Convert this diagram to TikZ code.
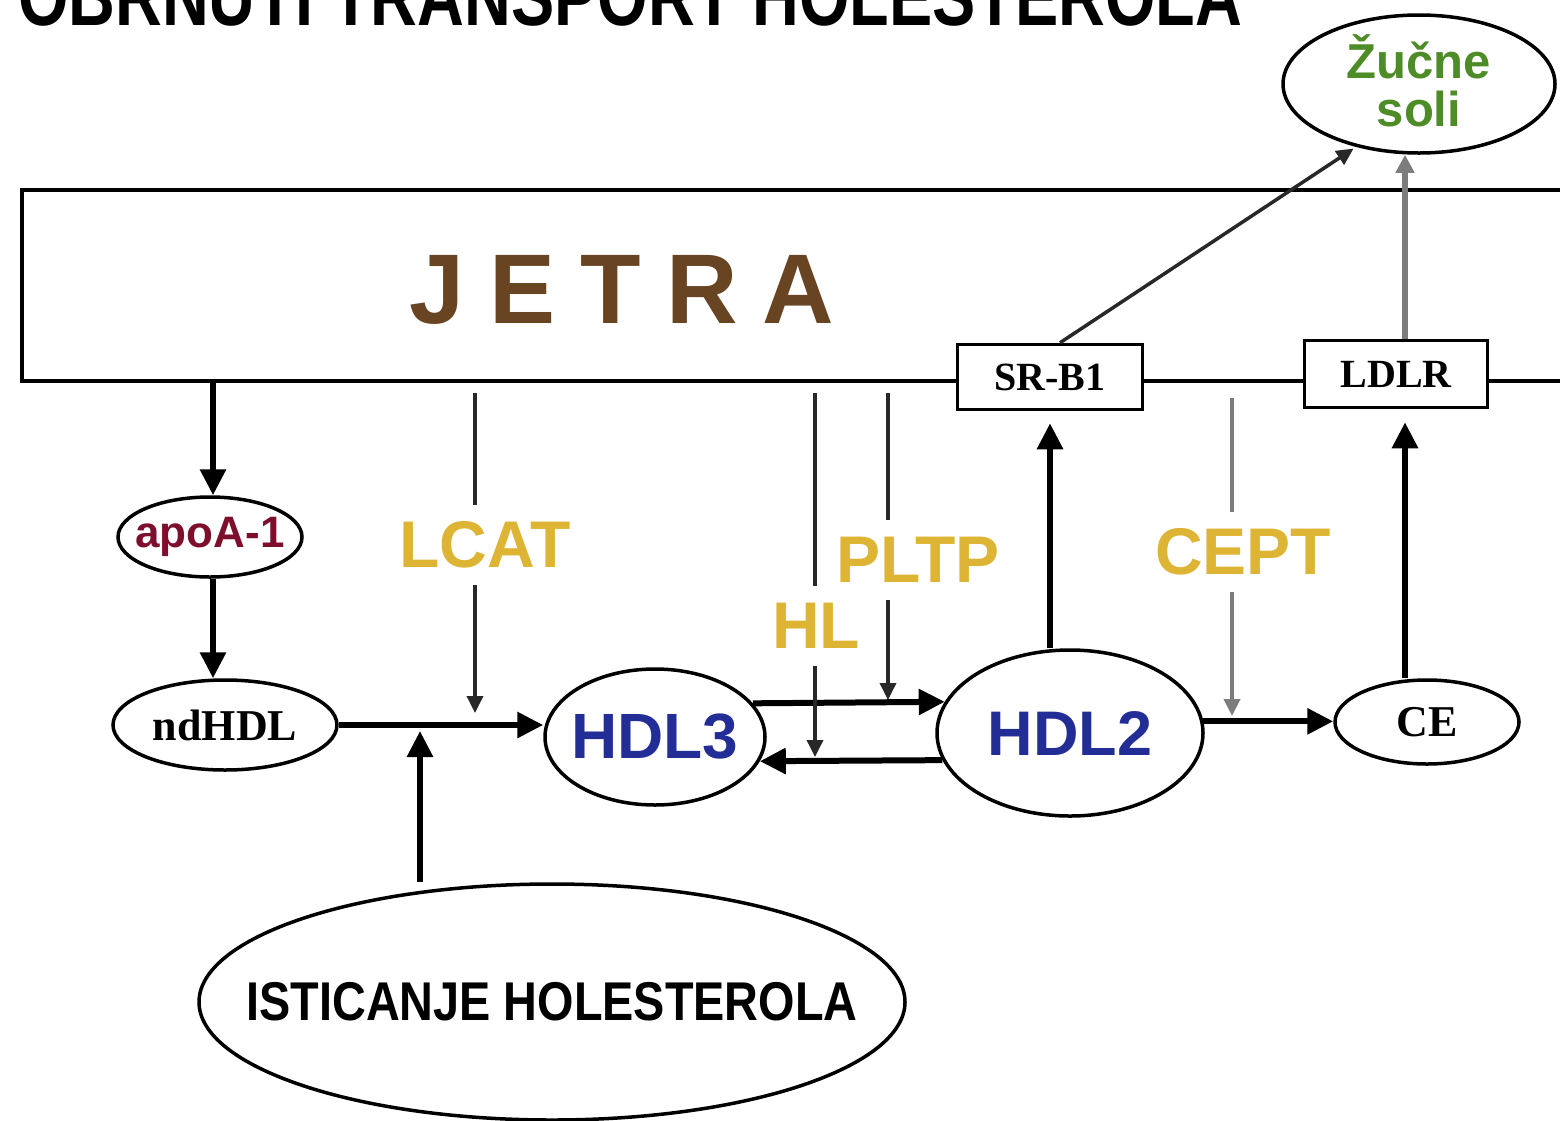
\documentclass[tikz,border=0pt]{standalone}
\usepackage{fontspec}
\setmainfont{Liberation Serif}
\setsansfont{Liberation Sans}
\usetikzlibrary{arrows.meta,shapes.geometric,calc}

\definecolor{liverbrown}{RGB}{104,68,34}
\definecolor{enzgold}{RGB}{222,180,52}
\definecolor{hdlblue}{RGB}{35,45,150}
\definecolor{apored}{RGB}{125,15,45}
\definecolor{bilegreen}{RGB}{78,140,40}
\definecolor{linegrey}{RGB}{125,125,125}
\definecolor{thinline}{RGB}{40,40,40}

\newcommand{\fsz}[1]{\fontsize{#1}{#1}\selectfont}

\begin{document}
\begin{tikzpicture}[x=1pt,y=-1pt,
  oval/.style={ellipse,draw,line width=3.5pt,inner sep=0pt},
  recbox/.style={rectangle,draw,line width=3.5pt,fill=white,inner sep=0pt,font=\bfseries\fsz{40}},
  bigarrow/.style={line width=6pt,-{Triangle[length=26pt,width=25pt]}},
  thinarrow/.style={line width=3.5pt,draw=thinline,-{Triangle[length=17pt,width=16pt]}},
  greyarrow/.style={line width=5.5pt,draw=linegrey,-{Triangle[length=18pt,width=18pt]}},
  enzyme/.style={font=\sffamily\bfseries\fsz{66},text=enzgold,fill=white,inner sep=0pt,minimum height=80pt},
]
\useasboundingbox (0,0) rectangle (1560,1120);
\clip (0,0) rectangle (1560,1120);

% heading, partly cut by the top edge
\node[anchor=base west,inner sep=0pt,font=\sffamily\bfseries\fsz{72}] (title) at (18,25)
  {\scalebox{0.9}[1.15]{OBRNUTI TRANSPORT HOLESTEROLA}};

% liver band running off the right edge
\node[draw,line width=4.5pt,minimum width=1558pt,minimum height=191pt,inner sep=0pt] (liver) at (801,285.5) {};
\node[anchor=base,inner sep=0pt,font=\sffamily\bfseries\fsz{99},text=liverbrown] (jetra) at (622,323)
  {J\hspace{25pt}E\hspace{25pt}T\hspace{25pt}R\hspace{25pt}A};

% receptors on the liver membrane
\node[recbox,minimum width=185pt,minimum height=65pt] (srb) at (1050,377) {SR-B1};
\node[recbox,minimum width=183pt,minimum height=67pt] (ldlr) at (1396,374) {LDLR};

% bile salts
\node[oval,minimum width=272pt,minimum height=138pt,
  label={[align=center,yshift=3pt,font=\sffamily\bfseries\fontsize{49}{48}\selectfont,text=bilegreen]center:Žučne\\soli}]
  (bile) at (1419,84) {};

% lipoprotein particles
\node[oval,minimum width=184pt,minimum height=80pt,
  label={[font=\sffamily\bfseries\fsz{44},text=apored]center:apoA-1}] (apo) at (210,537) {};
\node[oval,minimum width=224pt,minimum height=90pt,
  label={[font=\bfseries\fsz{44}]center:ndHDL}] (nd) at (225,725) {};
\node[oval,minimum width=220pt,minimum height=136pt,
  label={[font=\sffamily\bfseries\fsz{64},text=hdlblue]center:HDL3}] (hdl3) at (655,737) {};
\node[oval,minimum width=266pt,minimum height=166pt,
  label={[font=\sffamily\bfseries\fsz{63},text=hdlblue]center:HDL2}] (hdl2) at (1070,733) {};
\node[oval,minimum width=184pt,minimum height=84pt,
  label={[font=\bfseries\fsz{44}]center:CE}] (ce) at (1427,722) {};
\node[oval,minimum width=706pt,minimum height=236pt,
  label={[font=\sffamily\bfseries\fsz{52}]center:\scalebox{0.9}[1.05]{ISTICANJE HOLESTEROLA}}] (istic) at (552,1002) {};

% points where enzymes act on the flows
\coordinate (merge) at (420,731);
\coordinate (lcatend) at (475,713);
\coordinate (hlend) at (815,757);
\coordinate (pltpend) at (888,700);
\coordinate (ceptend) at (1232,716);

% main flow
\draw[bigarrow] ([xshift=3pt]apo.north |- liver.south) -- ([xshift=3pt]apo.north);
\draw[bigarrow] ([xshift=3pt]apo.south) -- ([xshift=3pt]apo.south |- nd.north);
\draw[bigarrow] (nd.east) -- (hdl3.west |- nd.east);
\draw[bigarrow] (istic.north -| merge) -- (merge);
\draw[bigarrow] (hdl3.19.6) -- (hdl2.166.4);
\draw[bigarrow] (hdl2.192.1) -- (hdl3.347.5);
\draw[bigarrow] (hdl2.5.6) -- (ce.west |- hdl2.5.6);
\draw[bigarrow,shorten >=12pt] (srb.south |- hdl2.north) -- (srb.south);
\draw[bigarrow,shorten >=13pt] ([xshift=9pt]ldlr.south |- ce.north) -- ([xshift=9pt]ldlr.south);

% export to bile
\draw[greyarrow] ([xshift=9pt]ldlr.north) -- ([xshift=9pt]ldlr.north |- bile.south);
\draw[thinarrow,shorten >=3pt] ([xshift=10pt]srb.north) -- (bile.225);

% enzyme inputs from the liver
\draw[thinarrow,shorten <=10pt] (lcatend |- liver.south) -- (lcatend);
\draw[thinarrow,shorten <=10pt] (hlend |- liver.south) -- (hlend);
\draw[thinarrow,shorten <=10pt] (pltpend |- liver.south) -- (pltpend);
\draw[thinarrow,draw=linegrey,line width=4pt,shorten <=15pt] (ceptend |- liver.south) -- (ceptend);

% enzyme labels
\node[enzyme] (lcat) at (485,545) {LCAT};
\node[enzyme] (pltp) at (918,560) {PLTP};
\node[enzyme] (hl) at (816,626) {HL};
\node[enzyme] (cept) at (1243,552) {CEPT};
\end{tikzpicture}
\end{document}
